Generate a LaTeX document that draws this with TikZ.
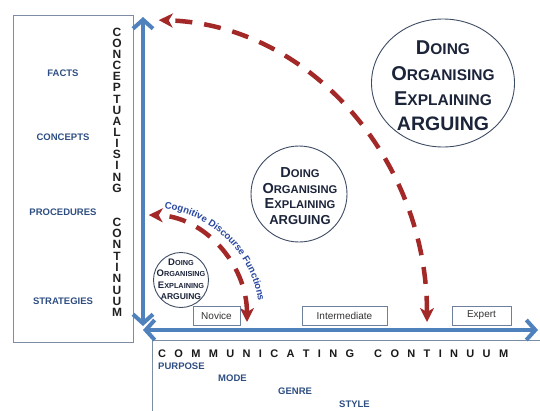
\documentclass[tikz,border=0pt]{standalone}
\usepackage{fontspec}
\setmainfont{Liberation Sans}
\usetikzlibrary{arrows.meta,decorations.text,shapes.geometric}

\definecolor{axisblue}{RGB}{79,129,189}
\definecolor{labelblue}{RGB}{46,78,130}
\definecolor{dashred}{RGB}{163,40,40}
\definecolor{ringgray}{RGB}{62,76,100}
\definecolor{inknavy}{RGB}{28,36,58}
\definecolor{framegray}{RGB}{125,140,165}
\definecolor{levelgray}{RGB}{110,128,155}
\definecolor{cdfblue}{RGB}{40,70,160}

% size helper and a word set as a large initial plus smaller capitals
\newcommand\fsz[1]{\fontsize{#1}{#1}\selectfont}
\newcommand\capword[4]{{\fsz{#1}#3}{\fsz{#2}#4}}

\begin{document}
\begin{tikzpicture}[x=1pt,y=-1pt,
  frame/.style={draw=framegray, line width=0.8pt},
  axis/.style={draw=axisblue, line width=4pt,
    {Straight Barb[length=9pt,width=20pt]}-{Straight Barb[length=9pt,width=20pt]}},
  flow/.style={draw=dashred, line width=4.5pt, dash pattern=on 17pt off 12pt,
    {Stealth[length=14pt,width=14pt,inset=4pt]}-{Stealth[length=14pt,width=14pt,inset=4pt]}},
  ring/.style={draw=ringgray, line width=0.9pt, fill=white, ellipse, inner sep=0},
  ringtext/.style={inner sep=0, anchor=base, text=inknavy, font=\bfseries},
  vletter/.style={inner sep=0, font=\fsz{12}\bfseries, text=black!88},
  sidelabel/.style={inner sep=0, font=\fsz{9.5}\bfseries, text=labelblue},
  level/.style={draw=levelgray, line width=0.9pt, fill=white, minimum height=19pt,
    inner sep=0, font=\fsz{10}, text=black!80},
]
\useasboundingbox (0,0) rectangle (540,410);
\clip (0,0) rectangle (540,410);

% frames for the two continua
\draw[frame] (13,15) rectangle (133,342);
\draw[frame] (152,340) rectangle (560,430);

% conceptualising continuum (vertical)
\foreach \ch [count=\k from 0] in {C,O,N,C,E,P,T,U,A,L,I,S,I,N,G}
  \node[vletter] (up\k) at (117,32+11.15*\k) {\ch};
\foreach \ch [count=\k from 0] in {C,O,N,T,I,N,U,U,M}
  \node[vletter] (dn\k) at (117,222+11.35*\k) {\ch};

\node[sidelabel] (facts) at (63,73) {FACTS};
\node[sidelabel] (concepts) at (63,137) {CONCEPTS};
\node[sidelabel] (procedures) at (63,212) {PROCEDURES};
\node[sidelabel] (strategies) at (63,301) {STRATEGIES};

% communicating continuum (horizontal)
\node[inner sep=0, anchor=base west, font=\fsz{11}\bfseries, text=black!90] (comm) at (158,357)
  {\makebox[350pt][s]{C\hfill O\hfill M\hfill M\hfill U\hfill N\hfill I\hfill C\hfill A\hfill T\hfill I\hfill N\hfill G\hspace{\stretch{2.4}}C\hfill O\hfill N\hfill T\hfill I\hfill N\hfill U\hfill U\hfill M}};
\node[sidelabel, anchor=west] (purpose) at (158,366) {PURPOSE};
\node[sidelabel, anchor=west] (mode) at (218,378) {MODE};
\node[sidelabel, anchor=west] (genre) at (278,391) {GENRE};
\node[sidelabel, anchor=west] (style) at (339,404) {STYLE};

% axes
\coordinate (origin) at (143,330);
\coordinate (vbase) at (143,326);
\coordinate (vtop) at (143,17);
\coordinate (hend) at (538,330);
\draw[axis] (vbase) -- (vtop);
\draw[axis] (origin) -- (hend);

% dashed growth arcs
\draw[flow] (427,322) arc[start angle=0, end angle=88.6, x radius=275pt, y radius=302pt];
\draw[flow] (247,322) arc[start angle=0, end angle=89, x radius=100pt, y radius=107pt];

% label along the inner arc
\path[decorate, decoration={text along path, text align=left,
  text={|\fsz{9.6}\bfseries\color{cdfblue}|Cognitive Discourse Functions}}]
  (164.4,208.2) arc[start angle=81.5, end angle=0, radius=112pt];

% discourse function circles
\node[ring, minimum width=143pt, minimum height=128pt] (bigring) at (443,83) {};
\node[ringtext] (bigd) at (443,54) {\capword{20}{15.5}{D}{OING}};
\node[ringtext] (bigo) at (443,80) {\capword{20}{15.5}{O}{RGANISING}};
\node[ringtext] (bige) at (443,105) {\capword{20}{15.5}{E}{XPLAINING}};
\node[ringtext] (biga) at (443,130) {\fsz{19.5}ARGUING};

\node[ring, minimum width=96pt, minimum height=96pt] (midring) at (299,194) {};
\node[ringtext] (midd) at (300,177) {\capword{14.5}{11.2}{D}{OING}};
\node[ringtext] (mido) at (300,193) {\capword{14.5}{11.2}{O}{RGANISING}};
\node[ringtext] (mide) at (300,208.5) {\capword{14.5}{11.2}{E}{XPLAINING}};
\node[ringtext] (mida) at (300,224.6) {\fsz{13}ARGUING};

\node[ring, minimum width=55pt, minimum height=55pt] (smallring) at (181,280) {};
\node[ringtext] (smalld) at (181,265.5) {\capword{9.5}{7.3}{D}{OING}};
\node[ringtext] (smallo) at (181,276.5) {\capword{9.5}{7.3}{O}{RGANISING}};
\node[ringtext] (smalle) at (181,288.5) {\capword{9.5}{7.3}{E}{XPLAINING}};
\node[ringtext] (smalla) at (181,299.5) {\fsz{8.5}ARGUING};

% expertise levels
\node[level, minimum width=47pt] (novice) at (216.5,316) {Novice};
\node[level, minimum width=85pt] (intermediate) at (344.5,316) {Intermediate};
\node[level, minimum width=59pt] (expert) at (481.5,315.5) {Expert};
\end{tikzpicture}
\end{document}
